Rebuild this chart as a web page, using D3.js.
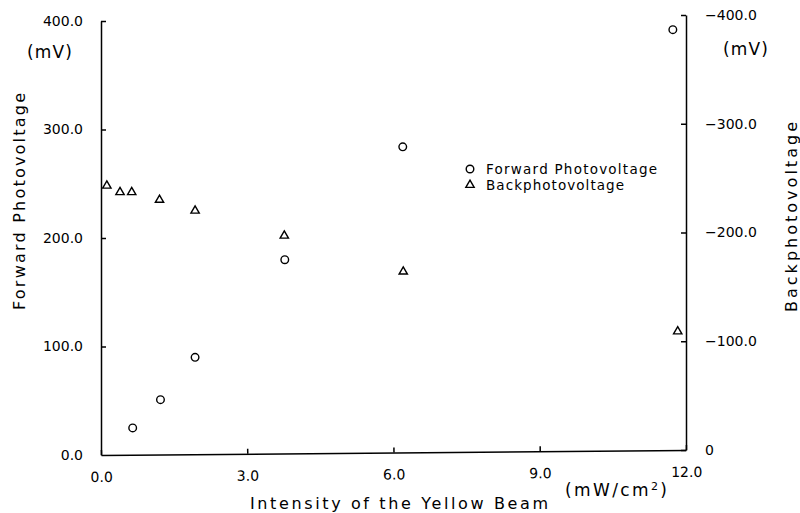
<!DOCTYPE html>
<html><head><meta charset="utf-8">
<script src="https://cdn.jsdelivr.net/npm/d3@7"></script>
<style>
body{margin:0;background:#fff;}
svg{display:block;font-family:"DejaVu Sans",sans-serif;}
.axis path,.axis line{stroke:#000;stroke-width:1.5;}
.axis text{font-family:"DejaVu Sans",sans-serif;font-size:14px;fill:#000;}
</style></head>
<body>
<svg id="c" width="800" height="513"></svg>
<script>
// Data
const xForward = [0.65, 1.22, 1.93, 3.77, 6.19, 11.73];
const forwardPhotovoltage = [25, 51, 90, 180, 284, 392];
const xBack = [0.12, 0.39, 0.63, 1.2, 1.93, 3.76, 6.2, 11.83];
const backPhotovoltage = [-243, -237, -237, -230, -220, -197, -164, -109];
const xTicks = [0, 3, 6, 9, 12];
const leftTicks = [100, 200, 300, 400];
const rightTicks = [-400, -300, -200, -100, 0];

const svg = d3.select("#c");
const x = d3.scaleLinear().domain([0, 12]).range([101, 686]);
const yL = d3.scaleLinear().domain([0, 400]).range([455, 21]);
const yR = d3.scaleLinear().domain([0, -400]).range([450, 15]);

// bottom axis (slightly tilted like the scan)
const ang = Math.atan2(-5, 585) * 180 / Math.PI;
const gx = svg.append("g").attr("class", "axis")
  .attr("transform", `rotate(${ang},101,455) translate(0,455)`)
  .call(d3.axisBottom(x).tickValues(xTicks).tickSizeInner(-5).tickSizeOuter(0).tickPadding(17)
    .tickFormat(d3.format(".1f")));
gx.selectAll(".tick text").attr("dy", "0.71em");

// left axis
const gl = svg.append("g").attr("class", "axis")
  .attr("transform", "translate(101,0)")
  .call(d3.axisLeft(yL).tickValues(leftTicks).tickSizeInner(-5).tickSizeOuter(0).tickPadding(18)
    .tickFormat(d3.format(".1f")));
gl.append("text").attr("x", -18).attr("y", yL(0)).attr("dy", "0.35em")
  .attr("text-anchor", "end").attr("fill", "#000").style("font-size", "14px").text("0.0");

// right axis
svg.append("g").attr("class", "axis")
  .attr("transform", "translate(686,0)")
  .call(d3.axisRight(yR).tickValues(rightTicks).tickSizeInner(-5).tickSizeOuter(0).tickPadding(19)
    .tickFormat(d => d === 0 ? "0" : "\u2212" + d3.format(".1f")(-d)));

// unit labels
svg.append("text").attr("x", 27).attr("y", 58).attr("textLength", 45).attr("lengthAdjust", "spacing")
  .style("font-size", "17px").text("(mV)");
svg.append("text").attr("x", 723).attr("y", 55).attr("textLength", 45).attr("lengthAdjust", "spacing")
  .style("font-size", "17px").text("(mV)");
const unit = svg.append("text").attr("x", 565).attr("y", 496).attr("textLength", 102).attr("lengthAdjust", "spacing")
  .style("font-size", "17px");
unit.append("tspan").text("(mW/cm");
unit.append("tspan").attr("dy", -6).style("font-size", "11px").text("2");
unit.append("tspan").attr("dy", 6).text(")");

// axis titles
svg.append("text").attr("x", 250).attr("y", 509).attr("textLength", 298).attr("lengthAdjust", "spacing")
  .style("font-size", "16px").text("Intensity of the Yellow Beam");
svg.append("text").attr("transform", "translate(25,310) rotate(-90)")
  .attr("textLength", 217).attr("lengthAdjust", "spacing")
  .style("font-size", "16px").text("Forward Photovoltage");
svg.append("text").attr("transform", "translate(797,312) rotate(-90)")
  .attr("textLength", 190).attr("lengthAdjust", "spacing")
  .style("font-size", "16px").text("Backphotovoltage");

// points
const tri = d3.symbol().type(d3.symbolTriangle).size(30);
svg.append("g").selectAll("circle").data(xForward).join("circle")
  .attr("cx", (d) => x(d)).attr("cy", (d, i) => yL(forwardPhotovoltage[i]))
  .attr("r", 3.8).attr("fill", "none").attr("stroke", "#000").attr("stroke-width", 1.4);
svg.append("g").selectAll("path").data(xBack).join("path")
  .attr("d", tri).attr("transform", (d, i) => `translate(${x(d)},${yR(backPhotovoltage[i])})`)
  .attr("fill", "none").attr("stroke", "#000").attr("stroke-width", 1.4);

// legend
const lg = svg.append("g");
lg.append("circle").attr("cx", 470).attr("cy", 169).attr("r", 3.8)
  .attr("fill", "none").attr("stroke", "#000").attr("stroke-width", 1.4);
lg.append("path").attr("d", tri).attr("transform", "translate(470,185)")
  .attr("fill", "none").attr("stroke", "#000").attr("stroke-width", 1.4);
lg.append("text").attr("x", 486).attr("y", 174).attr("textLength", 171).attr("lengthAdjust", "spacing")
  .style("font-size", "13.5px").text("Forward Photovoltage");
lg.append("text").attr("x", 486).attr("y", 190).attr("textLength", 138).attr("lengthAdjust", "spacing")
  .style("font-size", "13.5px").text("Backphotovoltage");
</script>
</body></html>
